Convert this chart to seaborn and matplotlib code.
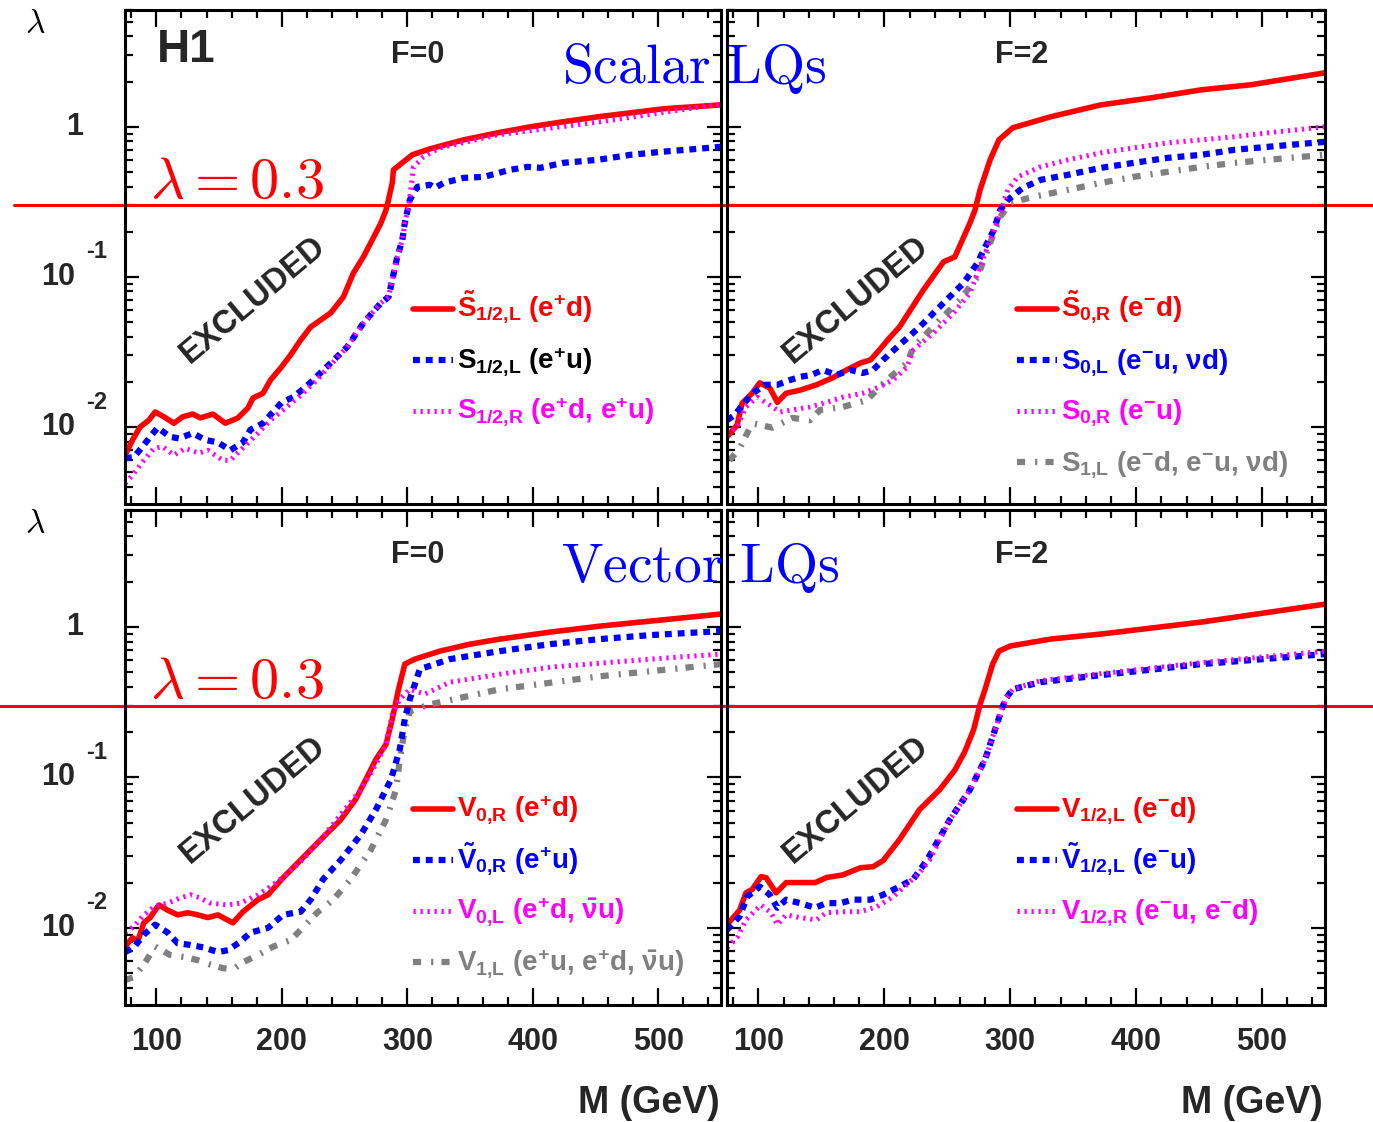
import numpy as np
import pandas as pd
import matplotlib
matplotlib.use("Agg")
import matplotlib.pyplot as plt
from matplotlib.lines import Line2D
from matplotlib.ticker import MultipleLocator, LogLocator, NullFormatter
import seaborn as sns

# ---------------- data (M in GeV, lambda) ----------------
# Top-left: Scalar LQs, F=0
tl_red_m = [75, 81, 87, 94, 99, 106, 114, 121, 129, 135, 145, 155, 165, 173, 177, 185, 191, 199, 207, 215, 223, 231, 239, 249, 257, 265, 272, 279, 283, 285, 288, 289, 296, 304, 318, 345, 372, 398, 424, 452, 478, 504, 550]
tl_red_l = [0.0065, 0.0082, 0.0100, 0.0111, 0.0126, 0.0117, 0.0106, 0.0117, 0.0122, 0.0115, 0.0122, 0.0106, 0.0115, 0.0134, 0.0156, 0.0168, 0.0206, 0.0247, 0.0302, 0.038, 0.0464, 0.0517, 0.0576, 0.0735, 0.106, 0.136, 0.176, 0.229, 0.279, 0.326, 0.423, 0.517, 0.576, 0.651, 0.713, 0.819, 0.912, 1.0, 1.08, 1.166, 1.24, 1.318, 1.40]
tl_blue_m = [75, 82, 89, 95, 101, 111, 118, 129, 139, 149, 159, 169, 175, 185, 193, 200, 209, 219, 225, 252, 265, 279, 285, 288, 292, 296, 298, 302, 308, 318, 322, 329, 345, 361, 382, 396, 406, 424, 452, 478, 504, 531, 550]
tl_blue_l = [0.0062, 0.0063, 0.0074, 0.0086, 0.0099, 0.0086, 0.0084, 0.0091, 0.0082, 0.0079, 0.0070, 0.0079, 0.0096, 0.0106, 0.0126, 0.0146, 0.0158, 0.0185, 0.0206, 0.0341, 0.0493, 0.0671, 0.0735, 0.0955, 0.136, 0.176, 0.229, 0.326, 0.398, 0.411, 0.392, 0.423, 0.457, 0.464, 0.517, 0.541, 0.533, 0.575, 0.603, 0.651, 0.683, 0.713, 0.736]
tl_mag_m = [75, 82, 90, 98, 105, 114, 123, 134, 141, 153, 159, 167, 181, 191, 204, 217, 228, 252, 265, 279, 285, 288, 292, 296, 298, 301, 302, 305, 313, 326, 372, 454, 550]
tl_mag_l = [0.0042, 0.0049, 0.0060, 0.0072, 0.0074, 0.0065, 0.0072, 0.0067, 0.0070, 0.0060, 0.0060, 0.0070, 0.0091, 0.0111, 0.0136, 0.0168, 0.0206, 0.0341, 0.0493, 0.0671, 0.0735, 0.0955, 0.136, 0.176, 0.229, 0.293, 0.341, 0.541, 0.631, 0.724, 0.884, 1.08, 1.42]

# Top-right: Scalar LQs, F=2
tr_red_m = [75, 83, 87, 95, 101, 109, 115, 122, 133, 146, 159, 170, 181, 189, 196, 204, 212, 231, 247, 256, 268, 272, 276, 284, 291, 302, 332, 372, 412, 452, 491, 550]
tr_red_l = [0.0086, 0.0103, 0.0144, 0.0168, 0.0197, 0.0182, 0.0146, 0.0168, 0.0176, 0.0191, 0.0213, 0.024, 0.0267, 0.028, 0.0326, 0.0392, 0.0464, 0.0819, 0.126, 0.136, 0.229, 0.279, 0.380, 0.603, 0.819, 0.985, 1.166, 1.40, 1.56, 1.765, 1.905, 2.29]
tr_blue_m = [75, 81, 89, 97, 105, 115, 123, 133, 142, 151, 162, 173, 183, 191, 199, 212, 228, 247, 263, 274, 280, 287, 292, 298, 310, 324, 346, 372, 398, 425, 452, 478, 505, 550]
tr_blue_l = [0.0111, 0.0120, 0.0146, 0.0171, 0.0191, 0.0191, 0.0203, 0.0216, 0.0222, 0.024, 0.0222, 0.024, 0.0229, 0.024, 0.028, 0.0352, 0.0464, 0.0671, 0.0912, 0.124, 0.158, 0.206, 0.279, 0.326, 0.392, 0.443, 0.479, 0.533, 0.575, 0.621, 0.651, 0.703, 0.736, 0.794]
tr_mag_m = [75, 83, 90, 99, 109, 117, 127, 141, 154, 167, 183, 196, 207, 218, 223, 239, 255, 268, 276, 284, 291, 298, 306, 324, 346, 372, 398, 425, 452, 478, 505, 550]
tr_mag_l = [0.0089, 0.0100, 0.0136, 0.0158, 0.0140, 0.0126, 0.0130, 0.0136, 0.0146, 0.0158, 0.0168, 0.0185, 0.0206, 0.0251, 0.0326, 0.0423, 0.0576, 0.0782, 0.117, 0.176, 0.251, 0.380, 0.464, 0.541, 0.603, 0.671, 0.724, 0.782, 0.819, 0.858, 0.912, 1.0]
tr_gray_m = [77, 85, 95, 111, 127, 141, 149, 167, 186, 202, 218, 223, 244, 260, 274, 284, 292, 300, 318, 346, 372, 398, 425, 452, 478, 505, 550]
tr_gray_l = [0.0060, 0.0072, 0.0106, 0.0099, 0.0115, 0.0111, 0.0130, 0.0136, 0.0151, 0.0206, 0.0267, 0.0341, 0.0517, 0.0702, 0.100, 0.168, 0.251, 0.311, 0.341, 0.380, 0.423, 0.464, 0.501, 0.541, 0.575, 0.603, 0.651]

# Bottom-left: Vector LQs, F=0
bl_red_m = [75, 81, 85, 90, 95, 102, 109, 117, 125, 133, 141, 149, 161, 169, 181, 189, 200, 215, 231, 247, 259, 267, 275, 283, 288, 293, 298, 306, 326, 350, 374, 414, 454, 494, 550]
bl_red_l = [0.0075, 0.0086, 0.0081, 0.0108, 0.0117, 0.0142, 0.0131, 0.0122, 0.0126, 0.0122, 0.0117, 0.0122, 0.0108, 0.0128, 0.0154, 0.0166, 0.0211, 0.0283, 0.0386, 0.0524, 0.0719, 0.097, 0.132, 0.166, 0.244, 0.386, 0.567, 0.612, 0.692, 0.77, 0.832, 0.926, 1.015, 1.096, 1.22]
bl_blue_m = [75, 82, 90, 99, 109, 117, 127, 138, 149, 157, 167, 175, 189, 201, 215, 223, 233, 247, 263, 275, 287, 294, 298, 302, 310, 334, 374, 414, 454, 494, 550]
bl_blue_l = [0.0069, 0.0074, 0.0090, 0.0105, 0.0093, 0.0079, 0.0077, 0.0074, 0.0069, 0.0071, 0.0081, 0.0093, 0.0100, 0.0122, 0.0128, 0.0154, 0.0211, 0.0283, 0.0417, 0.0612, 0.097, 0.154, 0.244, 0.331, 0.525, 0.612, 0.692, 0.77, 0.832, 0.884, 0.94]
bl_mag_m = [75, 82, 89, 98, 109, 119, 127, 135, 143, 157, 167, 181, 191, 199, 215, 231, 247, 263, 275, 283, 288, 294, 302, 314, 334, 374, 414, 454, 494, 550]
bl_mag_l = [0.0093, 0.0102, 0.0119, 0.0138, 0.0146, 0.0158, 0.0166, 0.0158, 0.0146, 0.0142, 0.0146, 0.0166, 0.0188, 0.0211, 0.0275, 0.0386, 0.0567, 0.083, 0.122, 0.166, 0.263, 0.331, 0.386, 0.358, 0.43, 0.486, 0.541, 0.575, 0.612, 0.661]
bl_gray_m = [75, 82, 90, 99, 111, 122, 133, 143, 153, 161, 169, 181, 193, 207, 215, 228, 241, 255, 271, 283, 291, 294, 298, 302, 318, 374, 454, 550]
bl_gray_l = [0.0045, 0.0047, 0.0057, 0.0075, 0.0066, 0.0064, 0.0061, 0.0057, 0.0054, 0.0053, 0.0059, 0.0066, 0.0075, 0.0083, 0.0097, 0.0126, 0.0154, 0.0211, 0.0331, 0.0524, 0.083, 0.132, 0.209, 0.275, 0.306, 0.386, 0.471, 0.567]

# Bottom-right: Vector LQs, F=2
br_red_m = [75, 85, 90, 95, 102, 106, 114, 122, 133, 145, 154, 167, 181, 191, 199, 212, 228, 244, 256, 264, 271, 276, 280, 286, 291, 300, 332, 372, 452, 550]
br_red_l = [0.0105, 0.0131, 0.0171, 0.0180, 0.0219, 0.0216, 0.0171, 0.0200, 0.0200, 0.0200, 0.0216, 0.0225, 0.0251, 0.0255, 0.0280, 0.0386, 0.0612, 0.083, 0.112, 0.149, 0.209, 0.306, 0.386, 0.567, 0.692, 0.748, 0.832, 0.898, 1.08, 1.42]
br_blue_m = [75, 85, 91, 101, 109, 115, 122, 133, 145, 154, 165, 175, 189, 199, 212, 223, 234, 252, 268, 280, 288, 296, 302, 324, 372, 452, 550]
br_blue_l = [0.0097, 0.0119, 0.0161, 0.0188, 0.0166, 0.0136, 0.0154, 0.0146, 0.0136, 0.0146, 0.0146, 0.0154, 0.0154, 0.0166, 0.0188, 0.0211, 0.0283, 0.0524, 0.083, 0.132, 0.209, 0.331, 0.386, 0.43, 0.479, 0.567, 0.661]
br_mag_m = [75, 83, 90, 102, 110, 115, 122, 133, 146, 154, 167, 181, 194, 207, 218, 228, 236, 252, 268, 280, 288, 296, 302, 324, 372, 452, 550]
br_mag_l = [0.0074, 0.0086, 0.0113, 0.0142, 0.0126, 0.0105, 0.0122, 0.0117, 0.0113, 0.0126, 0.0128, 0.0128, 0.0138, 0.0161, 0.0195, 0.0233, 0.0283, 0.0524, 0.083, 0.132, 0.209, 0.331, 0.386, 0.44, 0.49, 0.58, 0.69]

lambda_ref = 0.3
x_ticks = [100, 200, 300, 400, 500]

tl_labels = [r"$\tilde{\mathrm{S}}_{1/2{,}L}$ (e$^{+}$d)", r"S$_{1/2{,}L}$ (e$^{+}$u)", r"S$_{1/2{,}R}$ (e$^{+}$d, e$^{+}$u)"]
tr_labels = [r"$\tilde{\mathrm{S}}_{0{,}R}$ (e$^{-}$d)", r"S$_{0{,}L}$ (e$^{-}$u, $\nu$d)", r"S$_{0{,}R}$ (e$^{-}$u)", r"S$_{1{,}L}$ (e$^{-}$d, e$^{-}$u, $\nu$d)"]
bl_labels = [r"V$_{0{,}R}$ (e$^{+}$d)", r"$\tilde{\mathrm{V}}_{0{,}R}$ (e$^{+}$u)", r"V$_{0{,}L}$ (e$^{+}$d, $\bar{\nu}$u)", r"V$_{1{,}L}$ (e$^{+}$u, e$^{+}$d, $\bar{\nu}$u)"]
br_labels = [r"V$_{1/2{,}L}$ (e$^{-}$d)", r"$\tilde{\mathrm{V}}_{1/2{,}L}$ (e$^{-}$u)", r"V$_{1/2{,}R}$ (e$^{-}$u, e$^{-}$d)"]

# ---------------- style ----------------
sns.set_style("white")
plt.rcParams['font.family'] = ['Liberation Sans', 'DejaVu Sans']
plt.rcParams['font.weight'] = 'bold'
plt.rcParams['mathtext.fontset'] = 'custom'
plt.rcParams['mathtext.rm'] = 'Liberation Sans:bold'
plt.rcParams['mathtext.it'] = 'Liberation Sans:bold'
plt.rcParams['mathtext.bf'] = 'Liberation Sans:bold'
plt.rcParams['mathtext.sf'] = 'Liberation Sans:bold'

RED, BLUE, MAG, GRAY = '#ff0000', '#0000ff', '#ff00ff', '#808080'
STY = {
    'red': dict(color=RED, lw=4.0, linestyle='-'),
    'blue': dict(color=BLUE, lw=4.5, linestyle=(0, (1.1, 0.95))),
    'mag': dict(color=MAG, lw=3.6, linestyle=(0, (0.45, 0.95))),
    'gray': dict(color=GRAY, lw=4.5, linestyle=(0, (1.3, 1.6, 0.35, 1.3))),
}

W, H = 1373, 1122
fig = plt.figure(figsize=(W / 100, H / 100), dpi=100)
fig.patch.set_facecolor('white')


def px_rect(x0, y0, x1, y1):
    return [x0 / W, 1 - y1 / H, (x1 - x0) / W, (y1 - y0) / H]


def fx(x):
    return x / W


def fy(y):
    return 1 - y / H


ax_tl = fig.add_axes(px_rect(125, 10, 721, 504))
ax_tr = fig.add_axes(px_rect(727, 10, 1325, 504))
ax_bl = fig.add_axes(px_rect(125, 510, 721, 1005))
ax_br = fig.add_axes(px_rect(727, 510, 1325, 1005))


def draw(ax, m, l, key):
    df = pd.DataFrame({'M': m, 'lam': l})
    sns.lineplot(data=df, x='M', y='lam', ax=ax, sort=False, estimator=None,
                 legend=False, color=STY[key]['color'], linewidth=STY[key]['lw'],
                 linestyle=STY[key]['linestyle'])


def style(ax, bottom_labels, left_panel, hl_xmin, hl_xmax):
    ax.set_yscale('log')
    ax.set_xlim(75, 550)
    ax.set_ylim(0.00307, 6.0)
    ax.set_facecolor('white')
    ax.grid(False)
    ax.set_xlabel('')
    ax.set_ylabel('')
    ax.set_xticks(x_ticks)
    ax.xaxis.set_minor_locator(MultipleLocator(20))
    ax.yaxis.set_major_locator(LogLocator(base=10))
    ax.yaxis.set_minor_locator(LogLocator(base=10, subs=np.arange(2, 10)))
    ax.yaxis.set_major_formatter(NullFormatter())
    ax.yaxis.set_minor_formatter(NullFormatter())
    ax.tick_params(which='both', direction='in', top=True, right=True, bottom=True, left=True,
                   width=1.6, color='black')
    ax.tick_params(axis='x', which='major', length=12)
    ax.tick_params(axis='x', which='minor', length=6)
    ax.tick_params(axis='y', which='major', length=10)
    ax.tick_params(axis='y', which='minor', length=5.5)
    ax.tick_params(axis='x', labelbottom=bottom_labels, labelsize=22, pad=16)
    for lab in ax.get_xticklabels():
        lab.set_fontweight('bold')
    for s in ax.spines.values():
        s.set_linewidth(2.2)
        s.set_color('black')
    ax.axhline(lambda_ref, xmin=hl_xmin, xmax=hl_xmax, color=RED, lw=2.2, clip_on=False, zorder=1)
    if left_panel:
        ytr = ax.get_yaxis_transform()
        ax.annotate("1", xy=(0, 1.0), xycoords=ytr, xytext=(-30, 0), textcoords='offset points',
                    ha='right', va='center', fontsize=22, fontweight='bold')
        for val, ex in [(0.1, "-1"), (0.01, "-2")]:
            ax.annotate("10", xy=(0, val), xycoords=ytr, xytext=(-36, 0), textcoords='offset points',
                        ha='right', va='center', fontsize=22, fontweight='bold')
            ax.annotate(ex, xy=(0, val), xycoords=ytr, xytext=(-28, 18), textcoords='offset points',
                        ha='left', va='center', fontsize=17, fontweight='bold')


# draw curves
draw(ax_tl, tl_red_m, tl_red_l, 'red')
draw(ax_tl, tl_blue_m, tl_blue_l, 'blue')
draw(ax_tl, tl_mag_m, tl_mag_l, 'mag')

draw(ax_tr, tr_red_m, tr_red_l, 'red')
draw(ax_tr, tr_gray_m, tr_gray_l, 'gray')
draw(ax_tr, tr_blue_m, tr_blue_l, 'blue')
draw(ax_tr, tr_mag_m, tr_mag_l, 'mag')

draw(ax_bl, bl_red_m, bl_red_l, 'red')
draw(ax_bl, bl_gray_m, bl_gray_l, 'gray')
draw(ax_bl, bl_blue_m, bl_blue_l, 'blue')
draw(ax_bl, bl_mag_m, bl_mag_l, 'mag')

draw(ax_br, br_red_m, br_red_l, 'red')
draw(ax_br, br_blue_m, br_blue_l, 'blue')
draw(ax_br, br_mag_m, br_mag_l, 'mag')

style(ax_tl, False, True, -111 / 596, 1.01)
style(ax_tr, False, False, 0.0, 646 / 598)
style(ax_bl, True, True, -125 / 596, 1.01)
style(ax_br, True, False, 0.0, 646 / 598)

# ---------------- texts ----------------
fig.text(fx(157), fy(50), "H1", fontsize=33, fontweight='bold', ha='left', va='center')
for (x, y) in [(418, 55), (418, 555)]:
    fig.text(fx(x), fy(y), "F=0", fontsize=22, fontweight='bold', ha='center', va='center')
for (x, y) in [(1022, 55), (1022, 555)]:
    fig.text(fx(x), fy(y), "F=2", fontsize=22, fontweight='bold', ha='center', va='center')

fig.text(fx(694), fy(68), r"$\mathrm{Scalar\ LQs}$", math_fontfamily='cm', fontsize=40,
         color=BLUE, ha='center', va='center')
fig.text(fx(700), fy(568), r"$\mathrm{Vector\ LQs}$", math_fontfamily='cm', fontsize=40,
         color=BLUE, ha='center', va='center')
for y in [183, 683]:
    fig.text(fx(150), fy(y), r"$\lambda = 0.3$", math_fontfamily='cm', fontsize=42,
             color=RED, ha='left', va='center')
for y in [25, 525]:
    fig.text(fx(35), fy(y), r"$\lambda$", math_fontfamily='cm', fontsize=24,
             color='black', ha='center', va='center')

for (x, y) in [(253, 300), (856, 300), (253, 800), (856, 800)]:
    fig.text(fx(x), fy(y), "EXCLUDED", fontsize=23.5, fontweight='bold', rotation=40,
             rotation_mode='anchor', ha='center', va='center')

for x in [720, 1323]:
    fig.text(fx(x), fy(1103), "M (GeV)", fontsize=27, fontweight='bold', ha='right', va='center')


# ---------------- legends ----------------
def legend_block(x0, rows, keys, labels, text_colors):
    for y, k, lab, tc in zip(rows, keys, labels, text_colors):
        st = STY[k]
        fig.add_artist(Line2D([fx(x0), fx(x0 + 40)], [fy(y), fy(y)], transform=fig.transFigure,
                              color=st['color'], lw=st['lw'], linestyle=st['linestyle']))
        fig.text(fx(x0 + 44), fy(y + 8), lab, color=tc, fontsize=20, fontweight='bold',
                 ha='left', va='baseline')


legend_block(413, [309, 360, 411], ['red', 'blue', 'mag'], tl_labels, [RED, 'black', MAG])
legend_block(1017, [309, 360, 411, 462], ['red', 'blue', 'mag', 'gray'], tr_labels, [RED, BLUE, MAG, GRAY])
legend_block(413, [809, 860, 911, 962], ['red', 'blue', 'mag', 'gray'], bl_labels, [RED, BLUE, MAG, GRAY])
legend_block(1017, [809, 860, 911], ['red', 'blue', 'mag'], br_labels, [RED, BLUE, MAG])

fig.savefig("out.png", dpi=100, facecolor='white')
